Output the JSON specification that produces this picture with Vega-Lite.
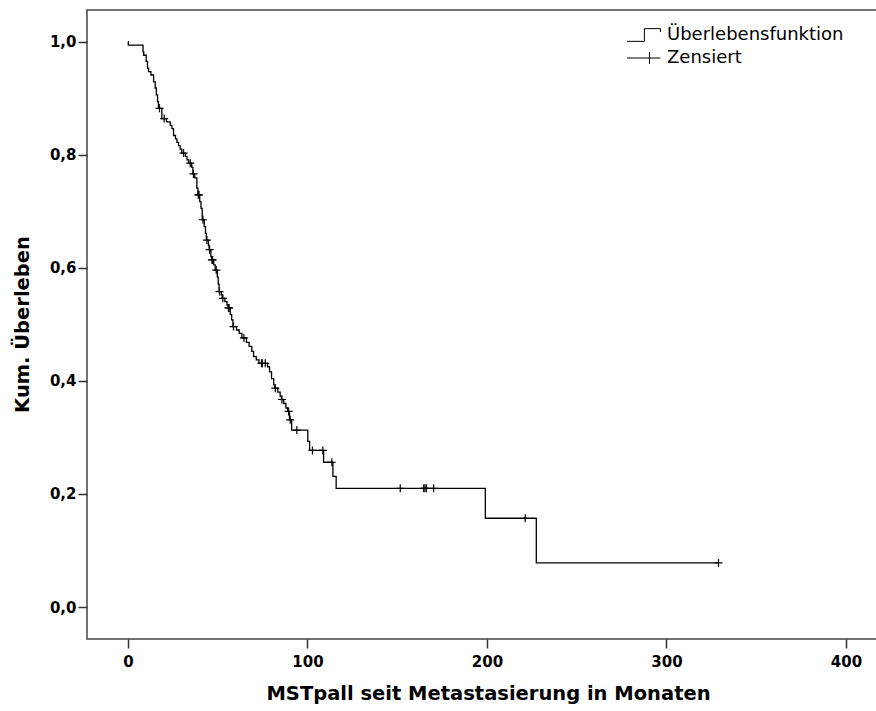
{
  "$schema": "https://vega.github.io/schema/vega-lite/v6.json",
  "width": 790,
  "height": 629,
  "autosize": {"type": "none"},
  "padding": {"left": 87, "top": 10, "right": 0, "bottom": 72},
  "background": "#ffffff",
  "config": {
    "view": {"stroke": "#444444", "strokeWidth": 1.5},
    "axis": {
      "grid": false,
      "domain": false,
      "tickColor": "#333333",
      "tickWidth": 1.5,
      "tickSize": 9,
      "labelFont": "DejaVu Sans",
      "labelFontWeight": "bold",
      "labelFontSize": 15,
      "labelColor": "#000000",
      "titleFont": "DejaVu Sans",
      "titleFontWeight": "bold",
      "titleFontSize": 19.5,
      "titleColor": "#000000"
    }
  },
  "datasets": {
    "curve": [
      {"months": 0, "survival": 1.0, "series": "Überlebensfunktion"},
      {"months": 0.2, "survival": 0.994, "series": "Überlebensfunktion"},
      {"months": 8.4, "survival": 0.982, "series": "Überlebensfunktion"},
      {"months": 8.8, "survival": 0.976, "series": "Überlebensfunktion"},
      {"months": 10.2, "survival": 0.965, "series": "Überlebensfunktion"},
      {"months": 10.9, "survival": 0.953, "series": "Überlebensfunktion"},
      {"months": 11.5, "survival": 0.947, "series": "Überlebensfunktion"},
      {"months": 12.8, "survival": 0.941, "series": "Überlebensfunktion"},
      {"months": 14.3, "survival": 0.929, "series": "Überlebensfunktion"},
      {"months": 15.2, "survival": 0.918, "series": "Überlebensfunktion"},
      {"months": 15.8, "survival": 0.906, "series": "Überlebensfunktion"},
      {"months": 16.5, "survival": 0.894, "series": "Überlebensfunktion"},
      {"months": 17.0, "survival": 0.882, "series": "Überlebensfunktion"},
      {"months": 18.9, "survival": 0.864, "series": "Überlebensfunktion"},
      {"months": 21.5, "survival": 0.858, "series": "Überlebensfunktion"},
      {"months": 23.6, "survival": 0.852, "series": "Überlebensfunktion"},
      {"months": 24.5, "survival": 0.846, "series": "Überlebensfunktion"},
      {"months": 25.4, "survival": 0.834, "series": "Überlebensfunktion"},
      {"months": 26.5, "survival": 0.828, "series": "Überlebensfunktion"},
      {"months": 27.3, "survival": 0.822, "series": "Überlebensfunktion"},
      {"months": 28.2, "survival": 0.816, "series": "Überlebensfunktion"},
      {"months": 29.1, "survival": 0.810, "series": "Überlebensfunktion"},
      {"months": 30.0, "survival": 0.803, "series": "Überlebensfunktion"},
      {"months": 32.0, "survival": 0.797, "series": "Überlebensfunktion"},
      {"months": 32.9, "survival": 0.791, "series": "Überlebensfunktion"},
      {"months": 33.8, "survival": 0.785, "series": "Überlebensfunktion"},
      {"months": 35.5, "survival": 0.778, "series": "Überlebensfunktion"},
      {"months": 36.2, "survival": 0.766, "series": "Überlebensfunktion"},
      {"months": 37.2, "survival": 0.759, "series": "Überlebensfunktion"},
      {"months": 38.4, "survival": 0.741, "series": "Überlebensfunktion"},
      {"months": 39.0, "survival": 0.729, "series": "Überlebensfunktion"},
      {"months": 40.0, "survival": 0.717, "series": "Überlebensfunktion"},
      {"months": 40.7, "survival": 0.705, "series": "Überlebensfunktion"},
      {"months": 41.4, "survival": 0.685, "series": "Überlebensfunktion"},
      {"months": 42.5, "survival": 0.673, "series": "Überlebensfunktion"},
      {"months": 43.2, "survival": 0.661, "series": "Überlebensfunktion"},
      {"months": 43.7, "survival": 0.649, "series": "Überlebensfunktion"},
      {"months": 44.8, "survival": 0.640, "series": "Überlebensfunktion"},
      {"months": 45.2, "survival": 0.632, "series": "Überlebensfunktion"},
      {"months": 46.2, "survival": 0.620, "series": "Überlebensfunktion"},
      {"months": 46.6, "survival": 0.614, "series": "Überlebensfunktion"},
      {"months": 47.8, "survival": 0.605, "series": "Überlebensfunktion"},
      {"months": 48.6, "survival": 0.596, "series": "Überlebensfunktion"},
      {"months": 49.8, "survival": 0.584, "series": "Überlebensfunktion"},
      {"months": 50.3, "survival": 0.571, "series": "Überlebensfunktion"},
      {"months": 50.8, "survival": 0.558, "series": "Überlebensfunktion"},
      {"months": 52.0, "survival": 0.552, "series": "Überlebensfunktion"},
      {"months": 52.5, "survival": 0.546, "series": "Überlebensfunktion"},
      {"months": 54.0, "survival": 0.540, "series": "Überlebensfunktion"},
      {"months": 55.2, "survival": 0.534, "series": "Überlebensfunktion"},
      {"months": 55.8, "survival": 0.529, "series": "Überlebensfunktion"},
      {"months": 57.0, "survival": 0.517, "series": "Überlebensfunktion"},
      {"months": 57.8, "survival": 0.508, "series": "Überlebensfunktion"},
      {"months": 58.5, "survival": 0.496, "series": "Überlebensfunktion"},
      {"months": 60.5, "survival": 0.490, "series": "Überlebensfunktion"},
      {"months": 62.0, "survival": 0.484, "series": "Überlebensfunktion"},
      {"months": 63.5, "survival": 0.476, "series": "Überlebensfunktion"},
      {"months": 66.0, "survival": 0.468, "series": "Überlebensfunktion"},
      {"months": 67.5, "survival": 0.461, "series": "Überlebensfunktion"},
      {"months": 69.0, "survival": 0.452, "series": "Überlebensfunktion"},
      {"months": 70.0, "survival": 0.443, "series": "Überlebensfunktion"},
      {"months": 71.5, "survival": 0.437, "series": "Überlebensfunktion"},
      {"months": 73.0, "survival": 0.431, "series": "Überlebensfunktion"},
      {"months": 77.8, "survival": 0.425, "series": "Überlebensfunktion"},
      {"months": 78.9, "survival": 0.416, "series": "Überlebensfunktion"},
      {"months": 80.0, "survival": 0.404, "series": "Überlebensfunktion"},
      {"months": 81.2, "survival": 0.393, "series": "Überlebensfunktion"},
      {"months": 81.8, "survival": 0.387, "series": "Überlebensfunktion"},
      {"months": 83.5, "survival": 0.380, "series": "Überlebensfunktion"},
      {"months": 84.8, "survival": 0.373, "series": "Überlebensfunktion"},
      {"months": 85.5, "survival": 0.367, "series": "Überlebensfunktion"},
      {"months": 86.8, "survival": 0.360, "series": "Überlebensfunktion"},
      {"months": 88.0, "survival": 0.352, "series": "Überlebensfunktion"},
      {"months": 89.0, "survival": 0.346, "series": "Überlebensfunktion"},
      {"months": 90.0, "survival": 0.331, "series": "Überlebensfunktion"},
      {"months": 91.2, "survival": 0.313, "series": "Überlebensfunktion"},
      {"months": 100.2, "survival": 0.293, "series": "Überlebensfunktion"},
      {"months": 101.2, "survival": 0.277, "series": "Überlebensfunktion"},
      {"months": 109.0, "survival": 0.256, "series": "Überlebensfunktion"},
      {"months": 114.2, "survival": 0.231, "series": "Überlebensfunktion"},
      {"months": 116.0, "survival": 0.210, "series": "Überlebensfunktion"},
      {"months": 199.1, "survival": 0.157, "series": "Überlebensfunktion"},
      {"months": 227.5, "survival": 0.078, "series": "Überlebensfunktion"},
      {"months": 329.0, "survival": 0.078, "series": "Überlebensfunktion"}
    ],
    "censored": [
      {"months": 17.6, "survival": 0.882, "series": "Zensiert"},
      {"months": 20.2, "survival": 0.864, "series": "Zensiert"},
      {"months": 31.0, "survival": 0.803, "series": "Zensiert"},
      {"months": 34.7, "survival": 0.785, "series": "Zensiert"},
      {"months": 36.5, "survival": 0.766, "series": "Zensiert"},
      {"months": 39.2, "survival": 0.729, "series": "Zensiert"},
      {"months": 39.6, "survival": 0.729, "series": "Zensiert"},
      {"months": 41.8, "survival": 0.685, "series": "Zensiert"},
      {"months": 44.0, "survival": 0.649, "series": "Zensiert"},
      {"months": 45.5, "survival": 0.632, "series": "Zensiert"},
      {"months": 46.8, "survival": 0.614, "series": "Zensiert"},
      {"months": 47.2, "survival": 0.614, "series": "Zensiert"},
      {"months": 49.2, "survival": 0.596, "series": "Zensiert"},
      {"months": 51.0, "survival": 0.558, "series": "Zensiert"},
      {"months": 52.9, "survival": 0.546, "series": "Zensiert"},
      {"months": 56.0, "survival": 0.529, "series": "Zensiert"},
      {"months": 56.4, "survival": 0.529, "series": "Zensiert"},
      {"months": 58.8, "survival": 0.496, "series": "Zensiert"},
      {"months": 64.6, "survival": 0.476, "series": "Zensiert"},
      {"months": 74.4, "survival": 0.431, "series": "Zensiert"},
      {"months": 74.9, "survival": 0.431, "series": "Zensiert"},
      {"months": 76.5, "survival": 0.431, "series": "Zensiert"},
      {"months": 82.1, "survival": 0.387, "series": "Zensiert"},
      {"months": 85.8, "survival": 0.367, "series": "Zensiert"},
      {"months": 89.5, "survival": 0.346, "series": "Zensiert"},
      {"months": 90.4, "survival": 0.331, "series": "Zensiert"},
      {"months": 94.1, "survival": 0.313, "series": "Zensiert"},
      {"months": 102.8, "survival": 0.277, "series": "Zensiert"},
      {"months": 108.6, "survival": 0.277, "series": "Zensiert"},
      {"months": 113.6, "survival": 0.256, "series": "Zensiert"},
      {"months": 151.7, "survival": 0.210, "series": "Zensiert"},
      {"months": 164.8, "survival": 0.210, "series": "Zensiert"},
      {"months": 165.5, "survival": 0.210, "series": "Zensiert"},
      {"months": 166.3, "survival": 0.210, "series": "Zensiert"},
      {"months": 170.3, "survival": 0.210, "series": "Zensiert"},
      {"months": 221.3, "survival": 0.157, "series": "Zensiert"},
      {"months": 329.0, "survival": 0.078, "series": "Zensiert"}
    ]
  },
  "encoding": {
    "x": {
      "field": "months",
      "type": "quantitative",
      "scale": {"domain": [-22.8, 417.3], "nice": false, "zero": false},
      "axis": {
        "values": [0, 100, 200, 300, 400],
        "labelPadding": 6,
        "title": "MSTpall seit Metastasierung in Monaten",
        "titleX": 401,
        "titleY": 54,
        "titleBaseline": "middle",
        "titleAnchor": "middle"
      }
    },
    "y": {
      "field": "survival",
      "type": "quantitative",
      "scale": {"domain": [-0.0566, 1.056], "nice": false, "zero": false},
      "axis": {
        "values": [0, 0.2, 0.4, 0.6, 0.8, 1.0],
        "labelExpr": "replace(format(datum.value, '.1f'), '.', ',')",
        "labelPadding": 2,
        "title": "Kum. Überleben",
        "titleX": -65,
        "titleY": 314,
        "titleAngle": -90,
        "titleBaseline": "middle",
        "titleAlign": "center"
      }
    },
    "stroke": {
      "field": "series",
      "type": "nominal",
      "scale": {"domain": ["Überlebensfunktion", "Zensiert"], "range": ["#000000", "#000000"]},
      "legend": {
        "title": null,
        "orient": "none",
        "legendX": 548,
        "legendY": 16,
        "padding": 0,
        "symbolSize": 100,
        "symbolStrokeWidth": 1,
        "symbolStrokeColor": "#000000",
        "symbolFillColor": "transparent",
        "labelFont": "DejaVu Sans",
        "labelFontSize": 18,
        "labelColor": "#000000",
        "labelLimit": 0,
        "labelOffset": 14,
        "rowPadding": 5,
        "encode": {
          "symbols": {
            "update": {
              "shape": {"signal": "datum.value == 'Zensiert' ? 'M-3.4,0H3.3M1.1,-1.17V1.17' : 'M-3.4,1.27H0.08V-1.27H3.3V-0.6'"},
              "stroke": {"value": "#000000"},
              "fill": {"value": "transparent"},
              "strokeWidth": {"value": 1}
            }
          }
        }
      }
    }
  },
  "layer": [
    {
      "data": {"name": "curve"},
      "mark": {"type": "line", "interpolate": "step-after", "strokeWidth": 1.3}
    },
    {
      "data": {"name": "censored"},
      "mark": {"type": "point", "shape": "M-1,0H1M0,-1V1", "size": 64, "filled": false, "strokeWidth": 1.2, "opacity": 1}
    }
  ]
}
